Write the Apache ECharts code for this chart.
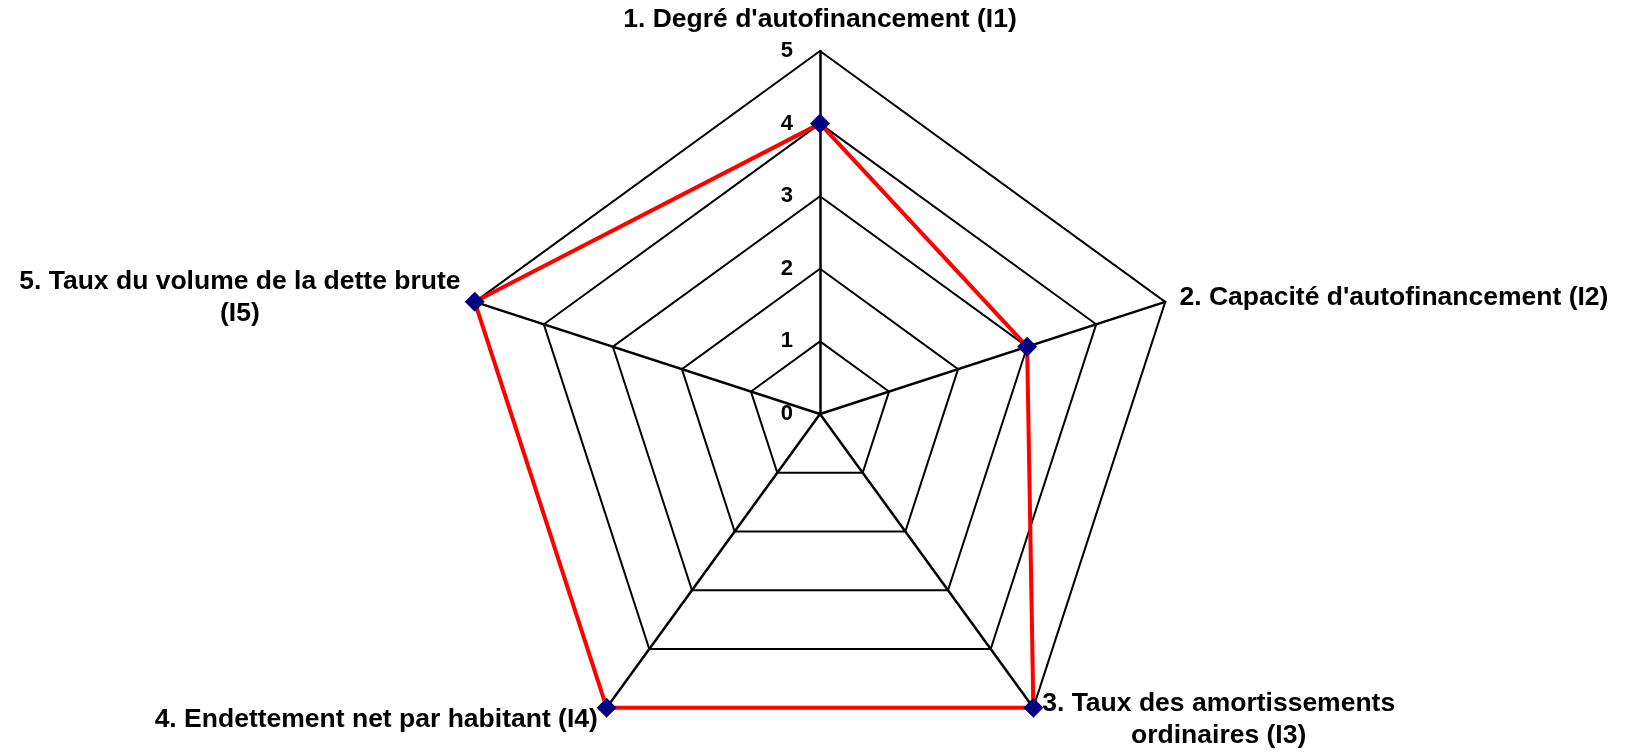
<!DOCTYPE html>
<html>
<head>
<meta charset="utf-8">
<script src="https://cdn.jsdelivr.net/npm/echarts@6/dist/echarts.min.js"></script>
<style>
html,body{margin:0;padding:0;background:#fff;}
#chart{width:1626px;height:754px;}
</style>
</head>
<body>
<div id="chart"></div>
<script>
const indicatorNames = [
  "1. Degré d'autofinancement (I1)",
  "2. Capacité d'autofinancement (I2)",
  "3. Taux des amortissements\nordinaires (I3)",
  "4. Endettement net par habitant (I4)",
  "5. Taux du volume de la dette brute\n(I5)"
];
const indicatorMax = [5, 5, 5, 5, 5];
const scoreValues = [4, 3, 5, 5, 5];

// ECharts lays radar axes counter-clockwise; the reference goes clockwise.
const order = [0, 4, 3, 2, 1];

const FONT = "'Liberation Sans', Arial, sans-serif";
const labelStyle = {
  show: true,
  color: '#000',
  fontFamily: FONT,
  fontWeight: 'bold',
  fontSize: 22,
  align: 'right',
  margin: 27
};
const chart = echarts.init(document.getElementById('chart'));
chart.setOption({
  backgroundColor: '#ffffff',
  animation: false,
  radar: {
    center: [820, 414],
    radius: 363,
    startAngle: 90,
    splitNumber: 5,
    shape: 'polygon',
    axisNameGap: 15,
    indicator: order.map((i, k) => ({
      name: indicatorNames[i],
      min: 0,
      max: indicatorMax[i],
      axisLabel: k === 0 ? labelStyle : undefined
    })),
    axisName: {
      color: '#000',
      fontFamily: FONT,
      fontWeight: 'bold',
      fontSize: 26.5,
      formatter: (name) => name.split('\n').map(l => '{c|' + l + '}').join('\n'),
      rich: {
        c: { align: 'center', color: '#000', fontFamily: FONT, fontWeight: 'bold', fontSize: 26.5, lineHeight: 32 }
      }
    },
    axisLine: { show: true, lineStyle: { color: '#000', width: 2.5 } },
    splitLine: { show: true, lineStyle: { color: '#000', width: 2 } },
    splitArea: { show: false },
    axisTick: { show: false },
    axisLabel: { show: false }
  },
  series: [{
    type: 'radar',
    symbol: 'diamond',
    symbolSize: 20,
    lineStyle: { color: '#ff0000', width: 4 },
    itemStyle: { color: '#000080' },
    data: [{ value: order.map(i => scoreValues[i]), name: 'Score' }]
  }]
});
</script>
</body>
</html>
